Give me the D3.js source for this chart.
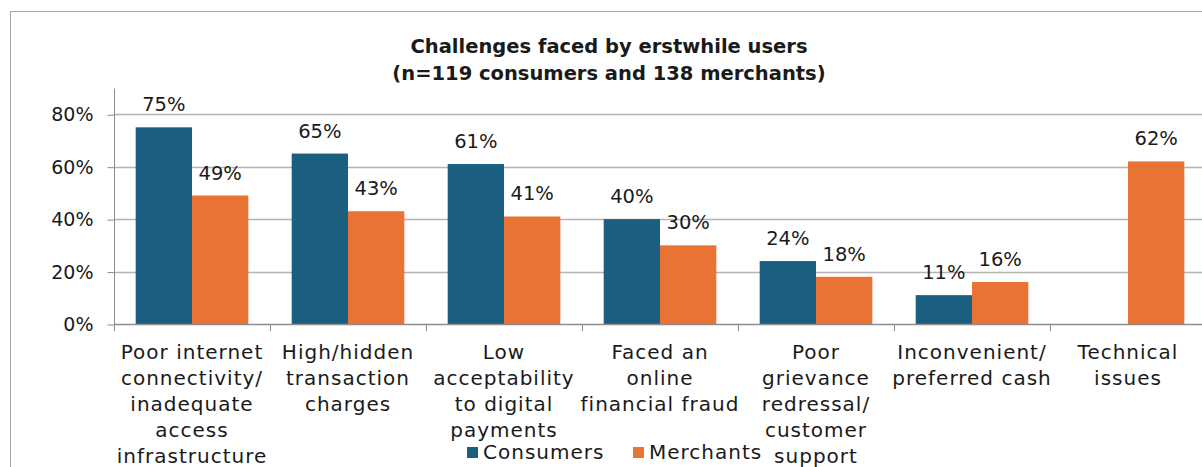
<!DOCTYPE html>
<html>
<head>
<meta charset="utf-8">
<script src="https://cdn.jsdelivr.net/npm/d3@7"></script>
<style>
  html, body { margin: 0; padding: 0; background: #fff; }
  svg { display: block; }
  text { font-family: "DejaVu Sans", sans-serif; fill: #1a1a1a; }
</style>
</head>
<body>
<svg id="chart" width="1202" height="467"></svg>
<script>
// Category labels, already broken into display lines
const categories = [
  "Poor internet connectivity/ inadequate access infrastructure",
  "High/hidden transaction charges",
  "Low acceptability to digital payments",
  "Faced an online financial fraud",
  "Poor grievance redressal/ customer support",
  "Inconvenient/ preferred cash",
  "Technical issues"
];
const categoryLines = [
  ["Poor internet", "connectivity/", "inadequate", "access", "infrastructure"],
  ["High/hidden", "transaction", "charges"],
  ["Low", "acceptability", "to digital", "payments"],
  ["Faced an", "online", "financial fraud"],
  ["Poor", "grievance", "redressal/", "customer", "support"],
  ["Inconvenient/", "preferred cash"],
  ["Technical", "issues"]
];
const seriesNames = ["Consumers", "Merchants"];
const consumers = [75, 65, 61, 40, 24, 11, null];
const merchants = [49, 43, 41, 30, 18, 16, 62];
const yTicks = [0, 20, 40, 60, 80];

const colors = { Consumers: "#1a5e80", Merchants: "#e97334" };

const svg = d3.select("#chart");

// outer frame
svg.append("rect")
  .attr("x", 10.5).attr("y", 11.5)
  .attr("width", 1260).attr("height", 500)
  .attr("fill", "none").attr("stroke", "#a6a6a6").attr("stroke-width", 1);

// title
const title = svg.append("text")
  .attr("text-anchor", "middle")
  .attr("font-weight", "bold")
  .attr("font-size", 19.5);
title.append("tspan").attr("x", 609).attr("y", 53).text("Challenges faced by erstwhile users");
title.append("tspan").attr("x", 609).attr("y", 80).text("(n=119 consumers and 138 merchants)");

const plotLeft = 114, plotRight = 1206, plotTop = 88, plotBottom = 324;

const y = d3.scaleLinear().domain([0, 90]).range([plotBottom, plotTop]);
const x0 = d3.scaleBand().domain(categories).range([plotLeft, plotRight]).padding(0);
const x1 = d3.scaleBand().domain(seriesNames).range([0, x0.bandwidth()])
  .paddingInner(0).paddingOuter(0.385);

// gridlines
svg.append("g").selectAll("line")
  .data(yTicks.filter(t => t > 0))
  .join("line")
  .attr("x1", plotLeft).attr("x2", plotRight)
  .attr("y1", d => Math.round(y(d)) + 0.5).attr("y2", d => Math.round(y(d)) + 0.5)
  .attr("stroke", "#b4b4b4").attr("stroke-width", 1.3);

// y axis
const yAxis = d3.axisLeft(y).tickValues(yTicks).tickSize(7).tickPadding(14)
  .tickFormat(d => d + "%");
const yg = svg.append("g").attr("transform", `translate(${plotLeft + 0.5},0.5)`).call(yAxis);
yg.select(".domain").attr("stroke", "#8c8c8c").attr("d", `M0,${plotTop}V${plotBottom}`);
yg.selectAll(".tick line").attr("stroke", "#8c8c8c");
yg.selectAll(".tick text").attr("font-size", 19).attr("fill", "#1a1a1a").attr("font-family", "DejaVu Sans, sans-serif");

// bars
const rows = categories.map((c, i) => ({ cat: c, values: [
  { key: "Consumers", v: consumers[i] },
  { key: "Merchants", v: merchants[i] }
]}));

const groups = svg.append("g").selectAll("g")
  .data(rows).join("g")
  .attr("transform", d => `translate(${x0(d.cat)},0)`);

groups.selectAll("rect")
  .data(d => d.values.filter(v => v.v != null))
  .join("rect")
  .attr("x", d => x1(d.key))
  .attr("width", x1.bandwidth())
  .attr("y", d => y(d.v))
  .attr("height", d => y(0) - y(d.v))
  .attr("fill", d => colors[d.key]);

groups.selectAll("text.val")
  .data(d => d.values.filter(v => v.v != null))
  .join("text")
  .attr("class", "val")
  .attr("x", d => x1(d.key) + x1.bandwidth() / 2)
  .attr("y", d => y(d.v) - 16)
  .attr("text-anchor", "middle")
  .attr("font-size", 19.5)
  .text(d => d.v + "%");

// x axis baseline and category boundary ticks
svg.append("line")
  .attr("x1", plotLeft).attr("x2", plotRight)
  .attr("y1", plotBottom + 0.5).attr("y2", plotBottom + 0.5)
  .attr("stroke", "#8c8c8c").attr("stroke-width", 1.3);
svg.append("g").selectAll("line")
  .data(categories.slice(1))
  .join("line")
  .attr("x1", d => Math.round(x0(d)) + 0.5).attr("x2", d => Math.round(x0(d)) + 0.5)
  .attr("y1", plotBottom).attr("y2", plotBottom + 7)
  .attr("stroke", "#8c8c8c");
svg.append("line")
  .attr("x1", plotLeft + 0.5).attr("x2", plotLeft + 0.5)
  .attr("y1", plotBottom).attr("y2", plotBottom + 7)
  .attr("stroke", "#8c8c8c");

// category labels
const lab = svg.append("g").selectAll("text")
  .data(categories).join("text")
  .attr("text-anchor", "middle")
  .attr("font-size", 20)
  .attr("letter-spacing", 1);
lab.each(function(c, i) {
  const cx = x0(c) + x0.bandwidth() / 2;
  d3.select(this).selectAll("tspan")
    .data(categoryLines[i]).join("tspan")
    .attr("x", cx)
    .attr("y", (d, j) => 359 + j * 26)
    .text(d => d);
});

// legend
const legend = svg.append("g");
const legendItems = [
  { key: "Consumers", x: 467 },
  { key: "Merchants", x: 633 }
];
legend.selectAll("rect").data(legendItems).join("rect")
  .attr("x", d => d.x).attr("y", 447)
  .attr("width", 11).attr("height", 11)
  .attr("fill", d => colors[d.key]);
legend.selectAll("text").data(legendItems).join("text")
  .attr("x", d => d.x + 16).attr("y", 459)
  .attr("font-size", 20)
  .attr("letter-spacing", 1)
  .text(d => d.key);
</script>
</body>
</html>
